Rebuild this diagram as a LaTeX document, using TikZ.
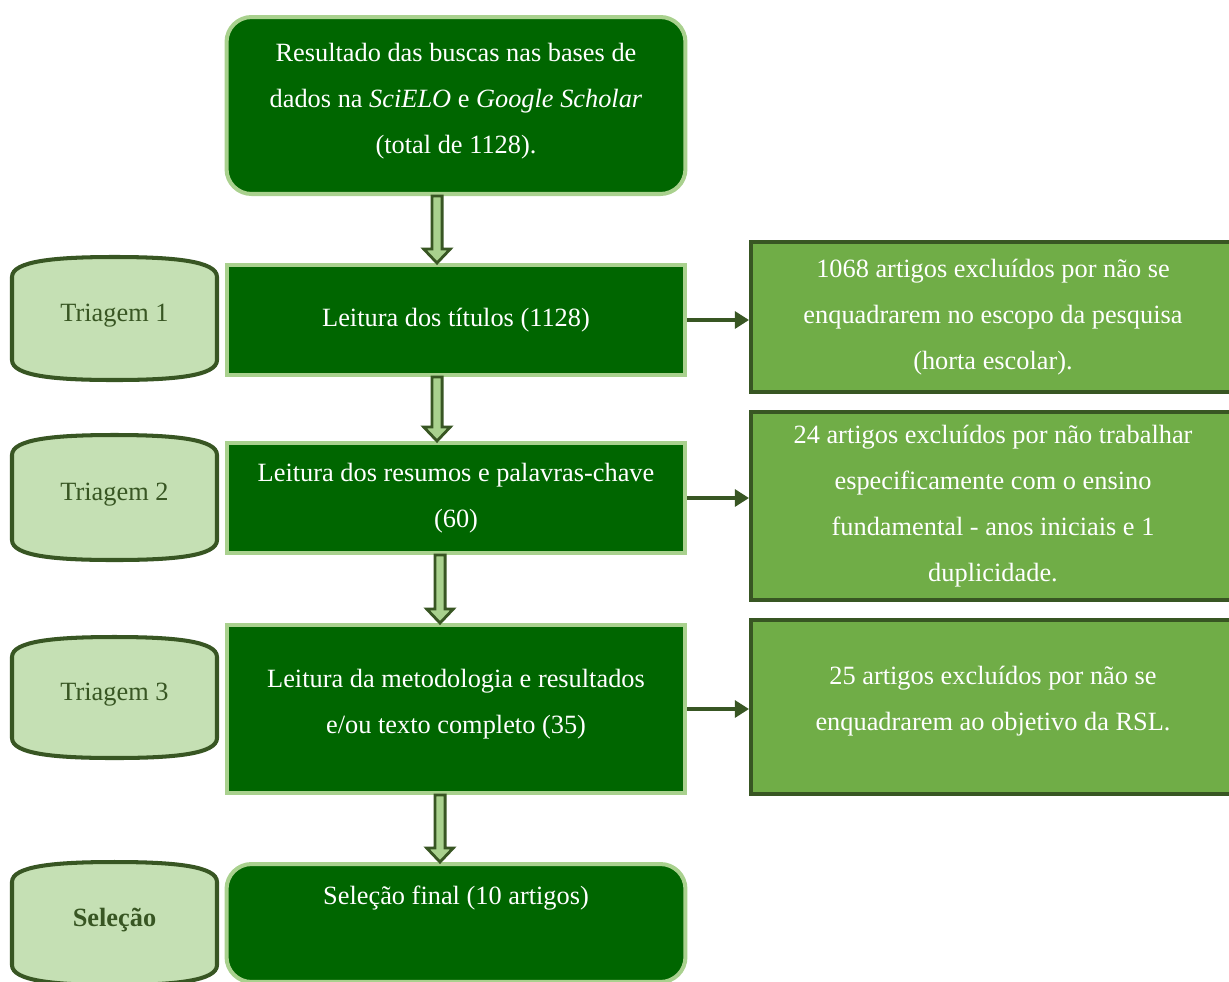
\documentclass[tikz,border=0pt]{standalone}
\usepackage{fontspec}
\setmainfont{Liberation Serif}
\usetikzlibrary{arrows.meta,calc}

\definecolor{darkgreen}{HTML}{006600}
\definecolor{lightborder}{HTML}{A9D18E}
\definecolor{midgreen}{HTML}{70AD47}
\definecolor{olive}{HTML}{385623}
\definecolor{palegreen}{HTML}{A9D18E}
\definecolor{palefill}{HTML}{C5E0B4}

% hollow arrow between two stacked boxes, at a given x
\newcommand{\fatarrow}[3]{%
  \path[fill=palegreen,draw=olive,line width=1.6pt,line join=miter]
    let \p1=(#1.south), \p2=(#2.north), \p3=(#3,0) in
    (\x3-2.9pt,\y1) -- (\x3+2.9pt,\y1) -- (\x3+2.9pt,\y2+8pt) -- (\x3+7.6pt,\y2+8pt)
    -- (\x3,\y2) -- (\x3-7.6pt,\y2+8pt) -- (\x3-2.9pt,\y2+8pt) -- cycle;}

\begin{document}
\begin{tikzpicture}[x=0.02cm,y=-0.02cm,
    every node/.style={font=\fontsize{15}{26.2}\selectfont,align=center},
    etapa/.style={draw=lightborder,fill=darkgreen,line width=2.3pt,text=white,minimum width=9.18cm,inner sep=0pt},
    exclusao/.style={draw=olive,fill=midgreen,line width=2.3pt,text=white,minimum width=9.68cm,inner sep=0pt},
    barril/.style={draw=olive,fill=palefill,line width=2.3pt},
    seta/.style={draw=olive,line width=2.3pt,-{Triangle[length=8pt,width=9.5pt]}}]
    \useasboundingbox (0,0) rectangle (1229,981);

    % left labels
    \foreach \t/\b/\nome/\txt in {257/380/tri1/Triagem 1,435/560/tri2/Triagem 2,
        637/758/tri3/Triagem 3,862/985/sel/\textbf{Seleção}}{
        \draw[barril] (12,{\t+20}) -- (12,{\b-20}) .. controls (12,{\b-4}) and (55,\b) .. (114.5,\b)
            .. controls (174,\b) and (217,{\b-4}) .. (217,{\b-20}) -- (217,{\t+20})
            .. controls (217,{\t+4}) and (174,\t) .. (114.5,\t)
            .. controls (55,\t) and (12,{\t+4}) .. (12,{\t+20}) -- cycle;
        \node[text=olive] (\nome) at (114.5,{(\t+\b)/2-3}) {\txt};
    }

    % main column
    \node[etapa,rounded corners=0.5cm,minimum height=3.54cm,text depth=0.3cm] (busca) at (456,105.5)
        {Resultado das buscas nas bases de\\dados na \textit{SciELO} e \textit{Google Scholar}\\(total de 1128).};
    \node[etapa,minimum height=2.2cm] (titulos) at (456,320) {Leitura dos títulos (1128)};
    \node[etapa,minimum height=2.2cm] (resumos) at (456,498) {Leitura dos resumos e palavras-chave\\(60)};
    \node[etapa,minimum height=3.36cm,text depth=0.3cm] (metodo) at (456,709)
        {Leitura da metodologia e resultados\\e/ou texto completo (35)};
    \node[etapa,rounded corners=0.5cm,minimum height=2.36cm,text height=0.37cm,text depth=1.1cm] (final) at (456,923)
        {Seleção final (10 artigos)};

    % excluded
    \node[exclusao,minimum height=3.0cm] (exc1) at (993,317)
        {1068 artigos excluídos por não se\\enquadrarem no escopo da pesquisa\\(horta escolar).};
    \node[exclusao,minimum height=3.76cm] (exc2) at (993,506)
        {24 artigos excluídos por não trabalhar\\especificamente com o ensino\\fundamental - anos iniciais e 1\\duplicidade.};
    \node[exclusao,minimum height=3.48cm,text depth=0.34cm] (exc3) at (993,707)
        {25 artigos excluídos por não se\\enquadrarem ao objetivo da RSL.};

    \fatarrow{busca}{titulos}{437}
    \fatarrow{titulos}{resumos}{437}
    \fatarrow{resumos}{metodo}{440}
    \fatarrow{metodo}{final}{440}

    \draw[seta] (titulos.east) -- (titulos.east -| exc1.west);
    \draw[seta] (resumos.east) -- (resumos.east -| exc2.west);
    \draw[seta] (metodo.east) -- (metodo.east -| exc3.west);
\end{tikzpicture}
\end{document}
